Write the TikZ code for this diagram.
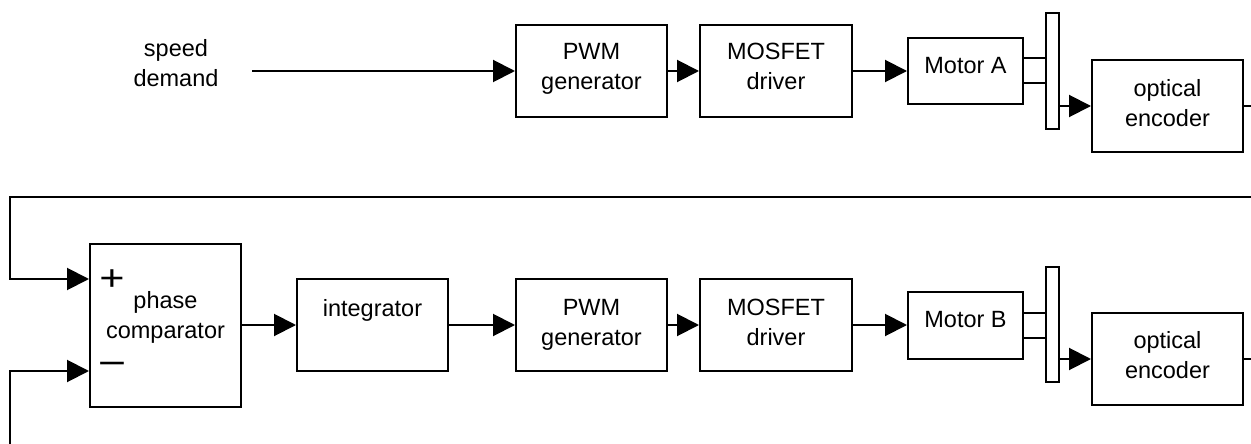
\documentclass[tikz,border=0pt]{standalone}
\usepackage{fontspec}
\setmainfont{Liberation Sans}
\usetikzlibrary{arrows.meta,chains,positioning,scopes}
\tikzset{>={Triangle[length=22pt,width=22pt]},
         every join/.style={->},
         lbl/.style={align=center, inner sep=0pt, font=\fontsize{23.5}{30}\selectfont},
         blk/.style={lbl, draw, minimum width=151pt},
         disc/.style={draw, inner sep=0pt, minimum width=13pt},
         sgn/.style={inner sep=0pt, font=\fontsize{36}{36}\selectfont}}

\begin{document}
\begin{tikzpicture}[x=1pt, y=-1pt, line width=2pt]
	\useasboundingbox (0,0) rectangle (1251,444);

	% motor A, speed set from outside
	\node[lbl, anchor=base] (spd) at (176,87) {speed\\demand};
	\coordinate (inA) at (252,71);
	\node[blk, text height=65pt, text depth=27pt] (pwmA) at (591.5,71) {PWM\\generator};
	\node[blk, minimum width=152pt, text height=65pt, text depth=27pt] (mosA) at (776,71) {MOSFET\\driver};
	\node[blk, minimum width=115pt, text height=36pt, text depth=30pt] (motA) at (965.5,71) {Motor A};
	\node[disc, minimum height=116pt] (diskA) at (1052.5,71) {};
	\node[blk, text height=66pt, text depth=26pt] (encA) at (1167.5,106) {optical\\encoder};

	% motor B, locked to A
	\node[blk, text height=94.5pt, text depth=68.5pt] (pc) at (165.5,325) {phase\\comparator};
	\node[sgn] (plus) at (112,280) {\scalebox{1.2}[1]{+}};
	\node[sgn] (minus) at (112,369) {\scalebox{1.35}[1]{−}};
	\node[blk, text height=37pt, text depth=55pt] (integ) at (372.5,325) {integrator};
	\node[blk, text height=66pt, text depth=26pt] (pwmB) at (591.5,325) {PWM\\generator};
	\node[blk, minimum width=152pt, text height=66pt, text depth=26pt] (mosB) at (776,325) {MOSFET\\driver};
	\node[blk, minimum width=115pt, text height=35.5pt, text depth=31.5pt] (motB) at (965.5,325) {Motor B};
	\node[disc, minimum height=115pt] (diskB) at (1052.5,324.5) {};
	\node[blk, text height=65pt, text depth=27pt] (encB) at (1167.5,359) {optical\\encoder};

	\coordinate (edgeR) at (1251,0);
	\coordinate (fbR) at (1251,197);
	\coordinate (fbL) at (10,197);
	\coordinate (fbB) at (10,444);

	{ [start chain]
		\chainin (inA);
		\chainin (pwmA) [join];
		\chainin (mosA) [join];
		\chainin (motA) [join];
	}
	{ [start chain]
		\chainin (pc);
		\chainin (integ) [join];
		\chainin (pwmB) [join];
		\chainin (mosB) [join];
		\chainin (motB) [join];
	}

	% shafts and encoders
	\foreach \m/\d/\e in {motA/diskA/encA, motB/diskB/encB} {
		\draw ([yshift=12.5pt]\m.east) -- ([yshift=12.5pt]\m.east -| \d.west);
		\draw ([yshift=-12.5pt]\m.east) -- ([yshift=-12.5pt]\m.east -| \d.west);
		\draw[->] (\d.east |- \e) -- (\e);
		\draw (\e) -- (\e -| edgeR);
	}

	% pulse trains back to the comparator
	\draw[->] (fbR) -- (fbL) |- ([yshift=46pt]pc.west);
	\draw[->] (fbB) |- ([yshift=-46pt]pc.west);
\end{tikzpicture}
\end{document}
